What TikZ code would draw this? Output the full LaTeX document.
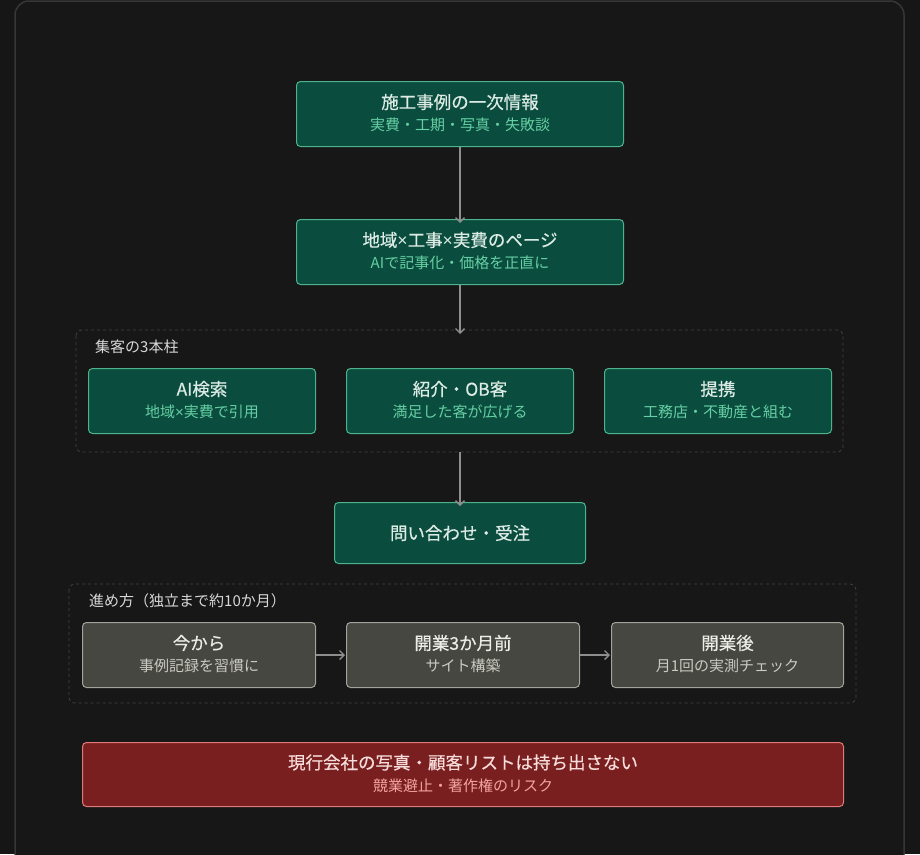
\documentclass[tikz,border=0pt]{standalone}
\usepackage{fontspec}
\setmainfont{Noto Sans CJK JP}
\newfontfamily\tfont[FakeBold=0.5]{Noto Sans CJK JP}
\newfontfamily\xfont{Liberation Sans}
\newcommand{\mulx}{{\xfont ×}}
\usetikzlibrary{arrows.meta}
\definecolor{bg}{HTML}{161616}
\definecolor{panel}{HTML}{171717}
\definecolor{panelline}{HTML}{363636}
\definecolor{gfill}{HTML}{0A4D3F}
\definecolor{gline}{HTML}{4DB38C}
\definecolor{gtitle}{HTML}{DCEBE4}
\definecolor{gsub}{HTML}{66CFA3}
\definecolor{nfill}{HTML}{474742}
\definecolor{nline}{HTML}{A3A39C}
\definecolor{ntitle}{HTML}{ECECE6}
\definecolor{nsub}{HTML}{CACAC2}
\definecolor{rfill}{HTML}{7A1F1F}
\definecolor{rline}{HTML}{E07A78}
\definecolor{rtitle}{HTML}{F6DCDA}
\definecolor{rsub}{HTML}{F2A4A0}
\definecolor{arr}{HTML}{8E8E8E}
\definecolor{dash}{HTML}{444444}
\definecolor{glabel}{HTML}{D8D8D8}
\tikzset{
  x=1pt,y=-1pt,
  box/.style={draw, line width=1pt, rounded corners=4pt, anchor=north west, inner sep=0pt},
  gbox/.style={box, fill=gfill, draw=gline},
  nbox/.style={box, fill=nfill, draw=nline},
  rbox/.style={box, fill=rfill, draw=rline},
  grp/.style={draw=dash, dashed, line width=0.8pt, rounded corners=6pt},
  conn/.style={draw=arr, line width=1.3pt, -{Straight Barb[length=4.5pt,width=9pt]}},
  glab/.style={font=\fontsize{15}{18}\selectfont, text=glabel, anchor=west, inner sep=0pt},
  ttl/.style={inner sep=0pt, font=\tfont\fontsize{17.5}{21}\selectfont},
  sub/.style={inner sep=0pt, font=\fontsize{15}{18}\selectfont},
}
\begin{document}
\begin{tikzpicture}
\fill[bg] (0,0) rectangle (920,854);
\useasboundingbox (0,0) rectangle (920,854);
\draw[panelline, fill=panel, line width=1.5pt, rounded corners=14pt] (15,1) rectangle (904,868);

% top boxes
\node[gbox, minimum width=327pt, minimum height=65pt] (b1) at (296,81) {};
\node[ttl, text=gtitle] (b1t) at ([yshift=12pt]b1.center) {施工事例の一次情報};
\node[sub, text=gsub] (b1s) at ([yshift=-11pt]b1.center) {実費・工期・写真・失敗談};
\node[gbox, minimum width=327pt, minimum height=65pt] (b2) at (296,219) {};
\node[ttl, text=gtitle] (b2t) at ([yshift=12pt]b2.center) {地域\mulx 工事\mulx 実費のページ};
\node[sub, text=gsub] (b2s) at ([yshift=-11pt]b2.center) {AIで記事化・価格を正直に};

% group 1
\draw[grp] (76,330) rectangle (843,452);
\coordinate (g1top) at (460,330);
\coordinate (g1bot) at (460,452);
\node[glab] (g1l) at (95,347) {集客の3本柱};
\node[gbox, minimum width=227pt, minimum height=65pt] (p1) at (88,368) {};
\node[ttl, text=gtitle] (p1t) at ([yshift=12pt]p1.center) {AI検索};
\node[sub, text=gsub] (p1s) at ([yshift=-11pt]p1.center) {地域\mulx 実費で引用};
\node[gbox, minimum width=227pt, minimum height=65pt] (p2) at (346,368) {};
\node[ttl, text=gtitle] (p2t) at ([yshift=12pt]p2.center) {紹介・OB客};
\node[sub, text=gsub] (p2s) at ([yshift=-11pt]p2.center) {満足した客が広げる};
\node[gbox, minimum width=227pt, minimum height=65pt] (p3) at (604,368) {};
\node[ttl, text=gtitle] (p3t) at ([yshift=12pt]p3.center) {提携};
\node[sub, text=gsub] (p3s) at ([yshift=-11pt]p3.center) {工務店・不動産と組む};

% inquiry
\node[gbox, minimum width=251pt, minimum height=61pt] (q) at (334,502) {};
\node[ttl, text=gtitle] (qt) at (q.center) {問い合わせ・受注};

% group 2
\draw[grp] (69,584) rectangle (856,703);
\node[glab] (g2l) at (89,601) {進め方（独立まで約10か月）};
\node[nbox, minimum width=233pt, minimum height=65pt] (s1) at (82,622) {};
\node[ttl, text=ntitle] (s1t) at ([yshift=12pt]s1.center) {今から};
\node[sub, text=nsub] (s1s) at ([yshift=-11pt]s1.center) {事例記録を習慣に};
\node[nbox, minimum width=233pt, minimum height=65pt] (s2) at (346,622) {};
\node[ttl, text=ntitle] (s2t) at ([yshift=12pt]s2.center) {開業3か月前};
\node[sub, text=nsub] (s2s) at ([yshift=-11pt]s2.center) {サイト構築};
\node[nbox, minimum width=232pt, minimum height=65pt] (s3) at (611,622) {};
\node[ttl, text=ntitle] (s3t) at ([yshift=12pt]s3.center) {開業後};
\node[sub, text=nsub] (s3s) at ([yshift=-11pt]s3.center) {月1回の実測チェック};

% red warning
\node[rbox, minimum width=761pt, minimum height=64pt] (w) at (82,742) {};
\node[ttl, text=rtitle] (wt) at ([yshift=12pt]w.center) {現行会社の写真・顧客リストは持ち出さない};
\node[sub, text=rsub] (ws) at ([yshift=-11pt]w.center) {競業避止・著作権のリスク};

% connectors
\draw[conn] (b1.south) -- ([yshift=-4pt]b2.north);
\draw[conn] (b2.south) -- ([yshift=-4pt]g1top);
\draw[conn] (g1bot) -- ([yshift=-4pt]q.north);
\draw[conn] (s1.east) -- ([xshift=-1pt]s2.west);
\draw[conn] (s2.east) -- ([xshift=-1pt]s3.west);
\end{tikzpicture}
\end{document}
